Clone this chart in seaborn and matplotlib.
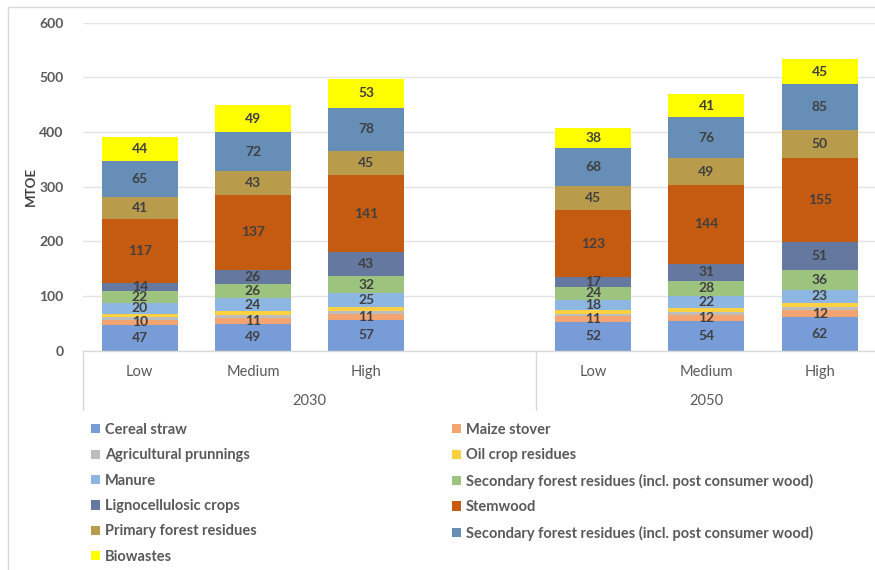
import matplotlib
matplotlib.use("Agg")
import matplotlib.pyplot as plt
import matplotlib.transforms as mtransforms
from matplotlib.lines import Line2D
from matplotlib.patches import Patch, Rectangle
import numpy as np
import pandas as pd
import seaborn as sns

# ---- data (MTOE) ----
years = ["2030", "2050"]
scenarios = ["Low", "Medium", "High"]

series_labels = [
    "Cereal straw",
    "Maize stover",
    "Agricultural prunnings",
    "Oil crop residues",
    "Manure",
    "Secondary forest residues (incl. post consumer wood)",
    "Lignocellulosic crops",
    "Stemwood",
    "Primary forest residues",
    "Secondary forest residues (incl. post consumer wood)",
    "Biowastes",
]

# each list: 2030 Low/Medium/High, then 2050 Low/Medium/High
cereal_straw = [47, 49, 57, 52, 54, 62]
maize_stover = [10, 11, 11, 11, 12, 12]
agricultural_prunnings = [5, 5, 5, 5, 5, 6]
oil_crop_residues = [6, 7, 7, 7, 7, 8]
manure = [20, 24, 25, 18, 22, 23]
secondary_forest_green = [22, 26, 32, 24, 28, 36]
lignocellulosic_crops = [14, 26, 43, 17, 31, 51]
stemwood = [117, 137, 141, 123, 144, 155]
primary_forest_residues = [41, 43, 45, 45, 49, 50]
secondary_forest_blue = [65, 72, 78, 68, 76, 85]
biowastes = [44, 49, 53, 38, 41, 45]

layers = [
    cereal_straw, maize_stover, agricultural_prunnings, oil_crop_residues,
    manure, secondary_forest_green, lignocellulosic_crops, stemwood,
    primary_forest_residues, secondary_forest_blue, biowastes,
]
# thin layers carry no value label
unlabelled = {2, 3}

colors = [
    "#789CD7", "#F4A470", "#BDBDBD", "#FFD040", "#8DB7E2", "#9CC47E",
    "#6478A0", "#C55A11", "#B89C4C", "#668EB6", "#FFFF00",
]

sns.set_theme(style="white")
plt.rcParams["font.family"] = ["Lato", "DejaVu Sans"]

W, H = 875, 570
fig = plt.figure(figsize=(W / 100, H / 100), dpi=100)
ax = fig.add_axes([83 / W, (H - 350.7) / H, 793.5 / W, 328 / H])

# one empty slot after each year group
n_sc = len(scenarios)
positions = [yi * (n_sc + 1) + si for yi in range(len(years)) for si in range(n_sc)]

values = np.array(layers, dtype=float)
tops = values.cumsum(axis=0)
bottoms = tops - values

rows = []
for k in range(len(layers)):
    for j, pos in enumerate(positions):
        rows.append({"layer": k, "pos": pos, "value": values[k, j], "top": tops[k, j]})
df = pd.DataFrame(rows)

# stacked bars: cumulative heights, drawn from the top layer down
for k in reversed(range(len(layers))):
    sns.barplot(
        data=df[df["layer"] == k], x="pos", y="top", native_scale=True,
        color=colors[k], saturation=1, width=0.67, errorbar=None,
        linewidth=0, ax=ax,
    )

for k in range(len(layers)):
    if k in unlabelled:
        continue
    for j, pos in enumerate(positions):
        ax.text(pos, bottoms[k, j] + values[k, j] / 2, f"{int(values[k, j])}",
                ha="center", va="center", fontsize=10, fontweight="bold",
                color="#404040")

ax.set_xlim(-0.5, positions[-1] + 0.5)
ax.set_ylim(0, 600)
ax.set_yticks(range(0, 601, 100))
ax.set_xticks(positions, scenarios * len(years))
ax.tick_params(axis="x", length=0, pad=10, labelsize=10.5, labelcolor="#595959")
ax.tick_params(axis="y", length=0, pad=14, labelsize=10, labelcolor="#595959")
for t in ax.get_yticklabels():
    t.set_fontweight("bold")

ax.yaxis.grid(True, color="#E4E4E4", lw=1)
ax.set_axisbelow(True)
for side in ["top", "right", "left"]:
    ax.spines[side].set_visible(False)
ax.spines["bottom"].set_color("#D9D9D9")
ax.spines["bottom"].set_linewidth(1)

ax.set_xlabel("")
ax.set_ylabel("MTOE", fontsize=9.5, fontweight="bold", color="#404040")
ax.yaxis.set_label_coords(-46 / 793.5, 0.5)

# multi-level category axis: group separators and year labels
trans = mtransforms.blended_transform_factory(ax.transData, ax.transAxes)
last = positions[-1] + 0.5
for yi, year in enumerate(years):
    start = yi * (n_sc + 1) - 0.5
    end = min(start + n_sc + 1, last)
    ax.add_line(Line2D([start, start], [0, -0.18], transform=trans,
                       clip_on=False, color="#D9D9D9", lw=1))
    ax.text((start + end) / 2, -0.153, year, transform=trans, ha="center",
            va="center", fontsize=10.5, color="#595959")
ax.add_line(Line2D([last, last], [0, -0.18], transform=trans,
                   clip_on=False, color="#D9D9D9", lw=1))

# legend in two columns, filled row by row
handles = [Patch(facecolor=c, edgecolor="none") for c in colors]
for col, x0 in enumerate([91, 452]):
    idx = list(range(col, len(layers), 2))
    fig.legend(
        [handles[i] for i in idx], [series_labels[i] for i in idx],
        loc="upper left", bbox_to_anchor=(x0 / W, 1 - 423 / H),
        frameon=False, ncol=1,
        prop={"weight": "bold", "size": 10.5},
        labelcolor="#595959", handlelength=0.6, handleheight=0.6,
        handletextpad=0.35, labelspacing=0.78, borderpad=0, borderaxespad=0,
    )

fig.add_artist(Rectangle((8 / W, -0.02), 1.0, 1 - 7 / H + 0.02,
                         transform=fig.transFigure, fill=False,
                         edgecolor="#D9D9D9", lw=1))

fig.savefig("out.png", dpi=100)
